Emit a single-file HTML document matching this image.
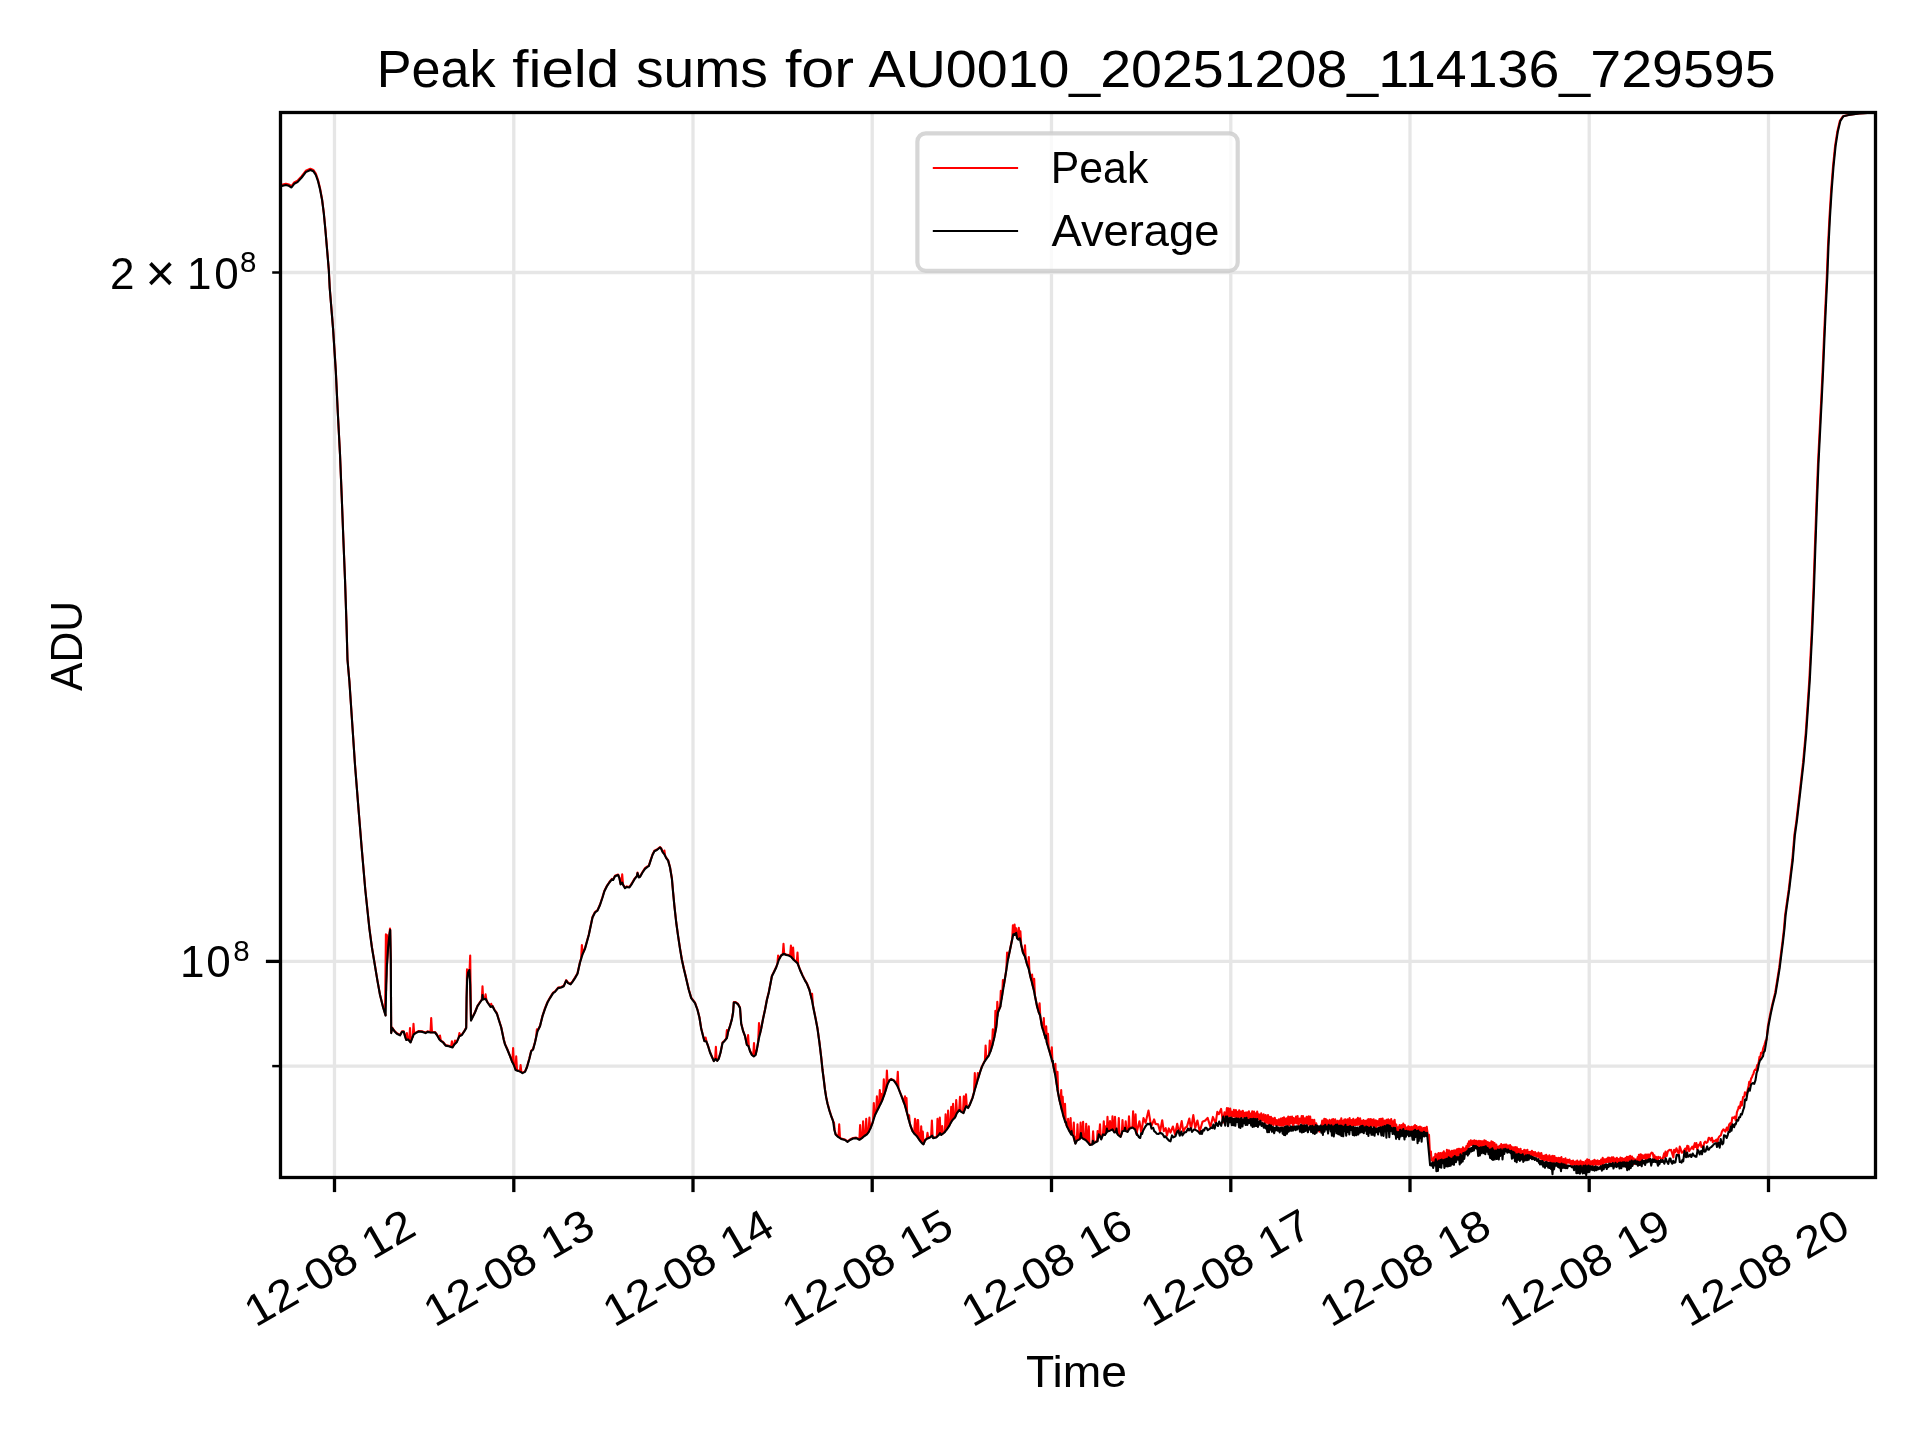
<!DOCTYPE html>
<html lang="en"><head><meta charset="utf-8"><title>Peak field sums for AU0010_20251208_114136_729595</title>
<style>html,body{margin:0;padding:0;background:#fff}body{width:1920px;height:1440px;overflow:hidden;font-family:"Liberation Sans",sans-serif}svg{display:block}text{font-family:"Liberation Sans",sans-serif;fill:#000}</style>
</head><body>
<svg width="1920" height="1440" viewBox="0 0 1920 1440">
<rect x="0" y="0" width="1920" height="1440" fill="#ffffff"/>
<defs><clipPath id="ax"><rect x="280.5" y="112.5" width="1595.0" height="1065.0"/></clipPath></defs>
<g stroke="#e6e6e6" stroke-width="3.3" fill="none">
<line x1="334.5" y1="112.5" x2="334.5" y2="1177.5"/>
<line x1="513.8" y1="112.5" x2="513.8" y2="1177.5"/>
<line x1="693.0" y1="112.5" x2="693.0" y2="1177.5"/>
<line x1="872.2" y1="112.5" x2="872.2" y2="1177.5"/>
<line x1="1051.5" y1="112.5" x2="1051.5" y2="1177.5"/>
<line x1="1230.8" y1="112.5" x2="1230.8" y2="1177.5"/>
<line x1="1410.0" y1="112.5" x2="1410.0" y2="1177.5"/>
<line x1="1589.2" y1="112.5" x2="1589.2" y2="1177.5"/>
<line x1="1768.5" y1="112.5" x2="1768.5" y2="1177.5"/>
<line x1="280.5" y1="272.5" x2="1875.5" y2="272.5"/>
<line x1="280.5" y1="961.4" x2="1875.5" y2="961.4"/>
<line x1="280.5" y1="1066.1" x2="1875.5" y2="1066.1"/>
</g>
<g clip-path="url(#ax)" fill="none" stroke-linejoin="round" stroke-linecap="butt">
<path id="peak" stroke="#ff0000" stroke-width="2.1" d="M279.0 185.3 L280.8 184.9 L285.8 183.7 L288.8 184.5 L291.5 186.2 L294.2 182.4 L297.5 180.8 L301.7 176.2 L305.8 170.8 L310.4 168.7 L313.3 169.9 L315.8 173.7 L317.9 179.5 L320.0 187.9 L322.1 199.5 L323.8 212.8 L325.4 229.5 L327.1 249.5 L328.8 269.5 L329.7 287.3 L333.1 328.9 L335.8 370.6 L337.8 412.3 L340.0 453.9 L341.7 495.6 L343.3 537.3 L345.0 578.9 L346.4 620.6 L347.5 659.5 L349.4 681.2 L352.2 722.8 L355.0 764.5 L358.3 806.2 L361.7 847.8 L365.3 889.5 L369.4 928.2 L371.9 947.0 L374.4 962.0 L377.5 980.8 L380.0 994.5 L383.1 1007.0 L385.6 1015.1 L385.1 1013.7 L385.9 934.4 L386.6 973.5 L386.2 984.5 L386.1 990.8 L386.9 935.0 L387.6 954.7 L386.9 965.8 L388.1 947.0 L389.4 934.5 L389.2 936.0 L390.0 928.5 L390.8 959.7 L390.2 929.5 L390.8 959.5 L391.0 997.0 L391.2 1032.6 L392.2 1027.6 L394.4 1030.8 L396.9 1033.2 L400.0 1034.9 L401.9 1031.4 L403.8 1031.4 L405.0 1035.8 L406.2 1039.5 L406.1 1039.3 L406.9 1033.1 L407.6 1039.2 L408.1 1038.9 L409.2 1040.5 L410.0 1028.1 L410.8 1041.9 L410.6 1042.0 L412.5 1037.0 L412.8 1036.6 L413.5 1023.8 L414.2 1033.7 L413.8 1033.9 L415.6 1032.6 L418.8 1031.0 L422.5 1031.4 L425.6 1032.6 L427.5 1031.4 L430.6 1032.0 L430.5 1032.2 L431.2 1018.1 L432.0 1032.2 L435.0 1032.0 L436.9 1034.5 L439.4 1038.9 L439.2 1038.9 L440.0 1035.6 L440.8 1040.5 L441.2 1040.8 L443.1 1042.0 L445.6 1045.1 L448.8 1045.8 L451.1 1046.7 L451.9 1041.2 L452.6 1047.0 L452.5 1047.0 L454.4 1043.9 L454.2 1044.3 L455.0 1040.6 L455.8 1042.7 L456.9 1041.4 L458.6 1037.6 L459.4 1033.1 L460.1 1035.6 L459.4 1035.8 L461.9 1034.5 L464.4 1030.8 L466.2 1027.6 L466.6 997.0 L466.2 1027.8 L467.0 969.4 L467.8 974.9 L467.2 978.2 L468.1 972.0 L469.4 969.5 L469.5 971.8 L470.2 955.6 L471.0 1020.3 L470.2 984.5 L471.0 1020.1 L472.5 1017.0 L475.0 1012.0 L477.5 1005.8 L480.0 1002.0 L482.2 998.9 L481.8 999.8 L482.5 986.2 L483.2 999.0 L482.5 994.5 L483.1 998.9 L484.9 998.6 L485.6 994.4 L486.4 1000.0 L485.6 998.2 L487.5 1002.0 L490.6 1006.4 L490.5 1006.4 L491.2 1003.8 L492.0 1006.1 L492.5 1005.8 L494.4 1009.5 L496.9 1013.2 L498.8 1019.5 L501.2 1027.0 L503.8 1039.5 L505.0 1043.9 L507.5 1049.5 L510.0 1055.8 L511.9 1060.8 L512.4 1062.0 L513.1 1048.1 L513.9 1065.0 L513.8 1064.5 L515.6 1069.5 L515.5 1069.4 L516.2 1056.2 L517.0 1070.2 L518.1 1070.4 L519.9 1071.3 L520.6 1065.0 L521.4 1072.1 L520.6 1071.4 L522.5 1072.6 L525.0 1071.4 L526.9 1067.0 L529.4 1058.2 L531.2 1050.8 L533.1 1048.9 L535.0 1042.0 L536.1 1037.1 L536.9 1029.4 L537.6 1030.7 L537.5 1030.8 L540.0 1025.8 L542.5 1015.8 L545.0 1008.2 L547.5 1002.0 L550.0 997.6 L553.1 992.6 L555.0 991.4 L558.1 987.6 L561.2 987.0 L563.8 985.8 L566.2 980.1 L568.1 982.6 L570.6 983.9 L572.5 981.4 L575.0 977.6 L577.5 973.2 L580.0 962.0 L581.1 958.5 L581.9 945.0 L582.6 953.8 L582.5 953.9 L585.0 948.2 L588.8 934.5 L592.5 917.0 L595.0 912.0 L597.5 910.1 L600.0 904.5 L602.5 897.0 L604.4 890.8 L606.9 885.8 L609.4 882.0 L611.9 878.9 L613.1 879.5 L615.0 875.8 L618.1 874.5 L619.4 877.6 L620.6 883.9 L621.5 883.1 L622.2 874.4 L623.0 884.3 L622.2 882.0 L623.1 884.5 L625.0 887.6 L626.9 886.4 L629.4 887.0 L631.9 883.2 L634.4 878.9 L636.9 875.8 L637.5 872.6 L638.8 877.0 L640.0 876.4 L642.5 872.0 L645.0 868.2 L647.5 866.4 L648.8 865.8 L650.6 860.1 L652.5 854.5 L654.4 850.8 L656.9 849.5 L660.0 847.0 L661.2 848.2 L662.5 851.4 L663.6 853.1 L664.4 850.6 L665.1 855.6 L664.4 853.9 L666.2 857.6 L668.1 860.1 L670.0 867.0 L671.9 878.2 L673.1 892.0 L674.4 905.8 L676.2 922.0 L678.1 935.8 L680.0 948.2 L681.9 959.5 L683.8 968.2 L685.6 975.8 L688.8 989.5 L691.2 997.6 L695.0 1002.6 L697.5 1009.5 L699.4 1017.0 L701.2 1028.2 L703.1 1035.8 L704.4 1040.8 L704.9 1041.0 L705.6 1037.5 L706.4 1041.3 L706.2 1040.8 L708.1 1045.8 L710.0 1052.0 L711.9 1056.4 L713.8 1060.8 L715.6 1058.2 L715.1 1059.1 L715.9 1046.9 L716.6 1059.8 L717.2 1060.5 L718.8 1058.2 L720.6 1052.0 L722.5 1042.6 L724.4 1040.8 L726.1 1038.8 L726.9 1030.0 L727.6 1034.1 L726.9 1037.6 L728.1 1031.4 L730.0 1025.8 L731.9 1018.9 L733.1 1012.0 L733.8 1002.0 L735.6 1002.0 L738.1 1003.9 L740.0 1007.6 L741.2 1023.2 L743.1 1030.8 L745.0 1035.8 L746.9 1044.5 L747.4 1045.1 L748.1 1035.0 L748.9 1047.2 L748.5 1045.8 L750.0 1050.8 L751.9 1054.5 L753.8 1056.0 L753.2 1055.8 L754.0 1043.1 L754.8 1055.4 L755.6 1054.5 L756.9 1048.9 L758.8 1038.2 L758.2 1041.3 L759.0 1023.1 L759.8 1034.5 L761.2 1028.2 L763.1 1018.2 L765.0 1009.5 L766.9 999.5 L768.8 992.0 L771.2 979.5 L771.9 975.8 L773.8 972.0 L776.2 967.0 L777.4 963.8 L778.1 955.6 L778.9 959.5 L778.8 959.5 L781.2 955.1 L782.8 954.1 L783.5 943.8 L784.2 953.8 L783.5 953.2 L786.2 954.5 L788.8 955.1 L790.1 956.0 L790.9 945.6 L791.6 957.0 L791.2 956.4 L792.4 958.0 L793.1 947.5 L793.9 959.8 L793.8 959.5 L796.8 962.2 L797.5 952.5 L798.2 964.9 L797.5 962.6 L800.0 969.5 L802.5 975.1 L805.0 980.1 L806.9 983.2 L809.4 989.5 L811.9 999.5 L811.4 997.7 L812.1 993.8 L812.9 1005.0 L813.8 1009.5 L815.6 1018.2 L817.5 1028.2 L819.4 1042.0 L821.2 1057.0 L822.5 1069.5 L823.8 1079.5 L825.0 1089.5 L826.2 1097.0 L827.5 1103.2 L829.4 1110.1 L831.2 1115.8 L833.1 1120.8 L833.2 1121.8 L834.0 1122.5 L834.8 1131.0 L834.4 1129.5 L835.6 1133.9 L838.1 1136.4 L838.5 1136.8 L839.2 1124.4 L840.0 1137.8 L841.2 1138.5 L845.0 1139.5 L847.5 1141.4 L850.0 1139.5 L853.1 1138.0 L856.2 1137.6 L859.4 1139.2 L859.4 1139.5 L860.1 1125.0 L860.9 1138.5 L861.9 1137.6 L862.4 1137.4 L863.1 1121.2 L863.9 1136.1 L864.4 1135.5 L865.5 1135.0 L866.2 1118.8 L867.0 1133.9 L866.9 1133.9 L868.8 1131.4 L868.6 1131.7 L869.4 1117.5 L870.1 1128.8 L870.6 1127.6 L872.5 1122.6 L873.0 1121.2 L873.8 1103.1 L874.5 1116.3 L875.0 1114.5 L876.1 1112.5 L876.9 1096.2 L877.6 1109.5 L877.5 1109.5 L879.0 1106.7 L879.8 1090.0 L880.5 1103.7 L880.0 1104.5 L880.4 1104.0 L881.1 1093.9 L881.9 1101.0 L881.9 1100.8 L883.0 1098.0 L883.8 1079.4 L884.5 1093.7 L883.8 1095.8 L885.6 1090.1 L886.1 1088.7 L886.9 1070.6 L887.6 1083.8 L887.5 1083.9 L889.4 1080.1 L891.2 1078.9 L893.8 1080.1 L896.2 1083.2 L897.0 1085.0 L897.8 1071.9 L898.5 1088.2 L898.1 1087.0 L900.0 1092.0 L902.5 1098.2 L904.2 1103.3 L905.0 1096.3 L905.8 1108.1 L905.0 1105.1 L905.5 1107.2 L906.2 1098.8 L907.0 1112.7 L905.8 1108.1 L906.5 1098.1 L907.2 1113.7 L906.9 1112.0 L908.8 1119.5 L908.3 1118.1 L909.1 1115.2 L909.8 1123.3 L910.6 1125.8 L912.5 1130.8 L914.4 1133.2 L914.2 1133.3 L915.0 1118.8 L915.8 1134.8 L914.2 1133.3 L915.0 1118.8 L915.8 1134.8 L916.9 1135.8 L916.8 1135.8 L917.5 1120.0 L918.2 1138.0 L917.4 1136.7 L918.1 1120.0 L918.9 1139.0 L919.4 1139.5 L919.2 1139.5 L920.0 1132.9 L920.8 1141.4 L920.5 1141.1 L921.2 1126.2 L922.0 1142.9 L921.9 1142.6 L922.0 1143.0 L922.8 1131.5 L923.5 1143.9 L923.5 1143.9 L925.0 1140.1 L926.9 1138.2 L926.7 1138.6 L927.5 1132.8 L928.2 1137.9 L930.0 1137.0 L931.1 1136.3 L931.9 1120.6 L932.6 1136.4 L932.2 1135.1 L933.1 1137.6 L936.2 1137.0 L936.8 1136.7 L937.5 1118.8 L938.2 1135.2 L938.8 1134.5 L939.0 1134.3 L939.8 1117.5 L940.5 1133.6 L940.0 1132.6 L941.2 1134.5 L941.4 1134.6 L942.2 1126.1 L942.9 1133.4 L944.4 1132.0 L944.9 1131.6 L945.6 1114.4 L946.4 1129.7 L946.9 1128.9 L947.4 1128.3 L948.1 1110.6 L948.9 1126.1 L949.4 1125.1 L950.6 1122.6 L950.5 1123.1 L951.2 1106.9 L952.0 1120.5 L952.5 1119.5 L952.4 1119.9 L953.1 1103.8 L953.9 1118.3 L955.0 1117.0 L955.5 1116.0 L956.2 1100.0 L957.0 1112.7 L956.9 1112.6 L959.4 1109.5 L959.2 1109.9 L960.0 1096.9 L960.8 1111.1 L961.2 1111.4 L963.5 1112.6 L963.0 1112.5 L963.8 1096.2 L964.5 1109.9 L965.0 1108.2 L965.2 1108.0 L966.0 1094.4 L966.8 1106.5 L966.2 1105.8 L968.1 1107.6 L970.0 1103.9 L972.5 1097.6 L974.4 1090.8 L974.0 1092.3 L974.8 1073.1 L975.5 1087.2 L976.2 1084.5 L977.0 1082.2 L977.8 1073.1 L978.5 1077.2 L978.1 1078.2 L980.0 1072.0 L981.9 1066.4 L984.4 1061.4 L984.9 1060.8 L985.6 1045.6 L986.4 1058.6 L986.9 1057.6 L988.8 1055.1 L989.0 1054.7 L989.8 1040.6 L990.5 1051.2 L990.6 1050.8 L992.5 1044.5 L992.0 1046.4 L992.8 1029.4 L993.5 1040.4 L994.4 1036.4 L994.7 1035.1 L995.4 1010.8 L996.2 1027.6 L994.9 1034.1 L995.6 1011.2 L996.4 1026.1 L996.2 1027.0 L996.6 1024.2 L997.3 1001.7 L998.1 1011.8 L997.5 1015.8 L997.9 1012.0 L1000.4 1006.2 L1000.1 1007.1 L1000.8 990.8 L1001.6 998.8 L1002.1 995.3 L1002.2 995.0 L1002.9 980.0 L1003.7 986.0 L1004.2 982.8 L1006.2 970.3 L1006.3 970.0 L1007.1 952.5 L1007.8 960.2 L1007.9 959.5 L1010.0 949.5 L1011.7 941.2 L1012.2 939.1 L1012.9 925.4 L1013.7 934.1 L1013.3 933.7 L1013.8 934.2 L1014.6 924.6 L1015.3 933.8 L1014.6 934.5 L1015.5 933.5 L1016.2 928.3 L1017.0 937.5 L1016.2 932.4 L1017.1 937.8 L1018.3 939.1 L1018.0 939.0 L1018.8 927.9 L1019.5 938.3 L1019.8 937.8 L1019.7 938.2 L1020.4 931.2 L1021.2 944.3 L1021.2 944.5 L1022.9 952.0 L1024.2 954.9 L1025.0 945.4 L1025.8 959.4 L1025.0 956.2 L1026.7 962.8 L1028.0 966.8 L1028.8 957.1 L1029.5 972.2 L1028.8 968.7 L1030.4 976.2 L1031.3 980.0 L1032.1 974.6 L1032.8 986.0 L1032.1 982.8 L1033.8 989.5 L1033.4 988.4 L1034.2 978.8 L1034.9 995.5 L1035.4 997.8 L1037.1 1006.2 L1038.8 1012.0 L1038.6 1011.8 L1039.4 1003.8 L1040.1 1015.5 L1038.8 1012.4 L1039.6 1003.3 L1040.3 1016.7 L1040.0 1014.5 L1041.9 1025.8 L1043.0 1029.7 L1043.8 1018.1 L1044.5 1034.7 L1043.8 1032.0 L1045.6 1038.2 L1045.5 1038.0 L1046.2 1026.2 L1047.0 1043.0 L1047.5 1044.5 L1047.3 1043.9 L1048.0 1033.9 L1048.8 1048.9 L1049.4 1050.8 L1051.2 1057.0 L1051.0 1056.4 L1051.8 1047.2 L1052.5 1062.2 L1053.1 1064.5 L1055.0 1073.2 L1054.6 1071.7 L1055.4 1063.8 L1056.1 1080.2 L1056.2 1080.8 L1056.8 1084.5 L1057.5 1071.9 L1058.2 1093.7 L1057.5 1089.5 L1059.4 1099.5 L1060.5 1104.2 L1061.2 1090.0 L1062.0 1110.2 L1061.2 1107.0 L1062.0 1110.0 L1062.7 1096.9 L1063.5 1115.8 L1063.1 1114.5 L1064.2 1118.5 L1065.0 1103.8 L1065.8 1123.0 L1065.0 1120.8 L1066.9 1125.8 L1067.4 1127.0 L1068.1 1118.8 L1068.9 1130.0 L1069.4 1130.8 L1069.9 1131.8 L1070.6 1118.1 L1071.4 1134.2 L1071.2 1133.9 L1073.1 1135.1 L1073.0 1135.2 L1073.8 1122.5 L1074.5 1140.2 L1074.4 1139.5 L1075.4 1143.2 L1074.6 1140.7 L1075.4 1136.8 L1076.1 1141.9 L1076.9 1140.1 L1076.8 1140.6 L1077.5 1124.4 L1078.2 1139.6 L1079.4 1138.9 L1079.9 1138.4 L1080.6 1122.5 L1081.4 1136.7 L1081.2 1136.4 L1082.4 1137.7 L1083.1 1121.9 L1083.9 1138.8 L1083.1 1138.2 L1085.6 1139.5 L1085.5 1139.6 L1086.2 1123.8 L1087.0 1141.1 L1087.5 1141.4 L1088.0 1142.2 L1088.8 1126.2 L1089.5 1144.1 L1090.0 1144.5 L1092.5 1143.9 L1092.4 1144.1 L1093.1 1131.2 L1093.9 1143.0 L1095.0 1142.0 L1097.5 1140.8 L1096.9 1141.3 L1097.6 1131.0 L1098.4 1136.2 L1098.8 1133.9 L1099.2 1134.8 L1100.0 1124.4 L1100.8 1137.8 L1100.0 1135.8 L1101.2 1138.9 L1103.1 1133.9 L1103.0 1134.4 L1103.8 1121.2 L1104.5 1134.5 L1105.0 1134.5 L1105.1 1134.5 L1105.9 1126.4 L1106.6 1132.0 L1106.9 1131.4 L1106.8 1131.8 L1107.5 1116.9 L1108.2 1131.0 L1110.0 1130.1 L1109.2 1130.6 L1110.0 1121.1 L1110.8 1130.0 L1111.8 1129.5 L1112.5 1116.2 L1113.2 1130.3 L1112.5 1128.9 L1114.4 1132.0 L1114.2 1132.0 L1115.0 1116.9 L1115.8 1131.7 L1116.2 1131.4 L1118.1 1134.5 L1118.0 1134.5 L1118.8 1118.1 L1119.5 1135.7 L1120.6 1136.4 L1121.8 1133.2 L1122.5 1120.0 L1123.2 1130.8 L1122.5 1130.8 L1125.0 1130.1 L1125.0 1130.3 L1125.7 1121.3 L1126.5 1131.1 L1127.5 1131.4 L1128.2 1130.3 L1129.0 1116.4 L1129.7 1128.3 L1129.4 1128.2 L1132.5 1127.0 L1132.4 1127.2 L1133.1 1111.2 L1133.9 1128.2 L1135.0 1128.9 L1134.9 1129.0 L1135.6 1114.4 L1136.4 1133.2 L1136.9 1134.5 L1137.0 1131.2 L1139.4 1121.2 L1141.3 1132.6 L1143.5 1118.1 L1145.6 1122.8 L1148.5 1110.6 L1151.2 1126.5 L1154.1 1119.4 L1155.5 1123.9 L1158.1 1124.4 L1160.1 1131.6 L1162.2 1120.2 L1163.8 1131.2 L1165.7 1128.2 L1167.0 1135.6 L1168.8 1128.4 L1170.5 1132.6 L1172.9 1126.5 L1175.1 1134.6 L1177.2 1123.8 L1179.2 1133.3 L1181.7 1121.1 L1183.3 1131.4 L1185.6 1127.2 L1186.8 1127.1 L1189.3 1118.5 L1191.0 1129.3 L1193.3 1115.1 L1195.2 1127.9 L1197.4 1120.5 L1199.7 1131.6 L1202.5 1121.7 L1205.3 1120.5 L1207.6 1117.9 L1210.4 1126.9 L1212.9 1116.9 L1215.6 1123.3 L1217.3 1111.8 L1218.9 1114.2 L1221.1 1108.9 L1223.0 1122.5 L1224.5 1112.2 L1226.1 1115.8 L1226.9 1108.1 L1227.7 1115.5 L1228.3 1108.4 L1229.0 1116.3 L1230.2 1108.6 L1231.3 1116.3 L1232.0 1111.7 L1232.8 1116.8 L1233.9 1109.8 L1234.9 1116.8 L1235.9 1110.1 L1236.6 1117.4 L1237.3 1111.9 L1238.4 1117.8 L1239.2 1110.2 L1240.5 1117.2 L1241.1 1111.5 L1242.0 1117.2 L1242.8 1110.7 L1244.0 1117.3 L1245.2 1112.5 L1246.4 1117.3 L1247.0 1112.4 L1247.8 1118.0 L1248.9 1111.3 L1249.7 1119.1 L1250.4 1113.5 L1251.5 1117.9 L1252.2 1111.4 L1253.0 1118.1 L1254.0 1111.6 L1255.0 1120.3 L1255.9 1113.2 L1256.5 1121.2 L1257.2 1111.6 L1258.2 1119.0 L1258.9 1114.2 L1260.1 1121.8 L1261.2 1113.3 L1262.4 1120.6 L1263.6 1114.2 L1264.7 1123.4 L1265.7 1115.1 L1266.8 1122.8 L1268.0 1115.1 L1268.6 1124.7 L1269.4 1116.8 L1270.4 1124.5 L1271.0 1116.8 L1271.7 1124.1 L1272.8 1118.4 L1273.5 1125.3 L1274.8 1117.9 L1276.0 1125.0 L1276.8 1120.0 L1277.9 1125.3 L1278.9 1119.2 L1280.0 1125.6 L1280.8 1118.6 L1281.6 1125.6 L1282.5 1118.0 L1283.4 1125.8 L1284.0 1117.4 L1285.1 1124.8 L1286.3 1118.3 L1287.3 1125.0 L1288.2 1116.5 L1289.2 1125.4 L1290.2 1116.7 L1290.9 1123.5 L1292.1 1116.6 L1293.1 1125.8 L1293.7 1118.1 L1294.8 1123.4 L1296.0 1116.6 L1296.9 1123.4 L1297.6 1116.0 L1298.6 1125.2 L1299.8 1118.6 L1300.8 1122.8 L1301.7 1116.0 L1302.4 1123.6 L1303.0 1116.0 L1303.7 1124.9 L1304.8 1118.4 L1305.7 1123.4 L1306.6 1116.9 L1307.4 1125.0 L1308.6 1116.4 L1309.5 1124.8 L1310.2 1116.6 L1311.0 1127.5 L1312.2 1119.8 L1313.2 1126.6 L1314.2 1119.7 L1315.2 1128.6 L1316.2 1123.3 L1317.4 1128.8 L1318.4 1128.6 L1319.4 1131.6 L1320.2 1131.0 L1321.1 1128.5 L1322.2 1120.6 L1323.4 1125.2 L1324.3 1118.7 L1325.2 1124.7 L1325.8 1119.0 L1326.4 1125.2 L1327.3 1120.3 L1328.3 1126.8 L1329.6 1119.9 L1330.7 1125.5 L1331.9 1119.6 L1332.5 1127.3 L1333.2 1119.1 L1334.2 1125.4 L1335.2 1119.3 L1336.2 1128.2 L1337.4 1120.8 L1338.5 1125.8 L1339.5 1120.6 L1340.3 1127.5 L1341.3 1118.2 L1341.9 1126.6 L1342.5 1120.9 L1343.2 1125.5 L1344.3 1119.5 L1344.9 1125.4 L1345.5 1119.4 L1346.6 1125.8 L1347.7 1119.2 L1348.8 1128.6 L1349.6 1118.0 L1350.7 1127.5 L1351.4 1120.1 L1352.2 1125.9 L1353.3 1118.7 L1354.2 1125.0 L1354.9 1120.4 L1355.5 1125.1 L1356.3 1119.2 L1357.1 1124.9 L1357.9 1117.8 L1359.1 1124.9 L1360.1 1118.3 L1360.9 1125.3 L1361.8 1120.7 L1362.4 1126.3 L1363.5 1120.1 L1364.5 1125.9 L1365.5 1120.7 L1366.5 1126.0 L1367.6 1119.5 L1368.3 1127.0 L1368.9 1119.1 L1370.1 1126.8 L1370.8 1119.0 L1371.4 1125.8 L1372.2 1119.7 L1373.0 1125.9 L1373.7 1119.4 L1374.6 1128.9 L1375.8 1120.4 L1376.4 1126.9 L1377.2 1121.0 L1378.3 1125.7 L1379.4 1119.1 L1380.0 1125.9 L1381.0 1118.8 L1381.6 1127.2 L1382.6 1118.5 L1383.8 1127.3 L1384.8 1120.6 L1385.4 1126.1 L1386.6 1119.9 L1387.2 1126.7 L1388.2 1119.3 L1388.9 1126.5 L1389.5 1120.4 L1390.3 1128.2 L1391.2 1119.0 L1392.0 1131.0 L1393.0 1121.4 L1393.6 1127.3 L1394.6 1119.7 L1395.4 1129.2 L1396.3 1124.5 L1397.0 1132.1 L1398.0 1127.3 L1398.7 1132.8 L1399.6 1125.1 L1400.7 1130.8 L1401.5 1125.1 L1402.3 1134.4 L1403.3 1123.6 L1403.9 1130.4 L1404.8 1125.0 L1405.6 1130.4 L1406.6 1127.6 L1407.1 1131.9 L1408.3 1126.2 L1409.0 1132.6 L1409.8 1127.0 L1410.8 1131.0 L1411.5 1126.9 L1412.5 1131.7 L1413.6 1126.2 L1414.3 1131.6 L1415.0 1125.0 L1415.9 1131.9 L1416.5 1126.0 L1417.7 1134.7 L1418.7 1127.0 L1419.4 1133.0 L1420.0 1126.5 L1420.8 1133.6 L1421.5 1127.4 L1422.5 1135.5 L1423.6 1128.1 L1424.2 1131.8 L1424.7 1127.9 L1425.7 1131.2 L1426.7 1126.7 L1427.8 1135.2 L1429.0 1134.8 L1430.0 1155.0 L1430.9 1151.4 L1431.5 1160.3 L1432.2 1160.3 L1433.0 1161.7 L1433.7 1157.2 L1434.7 1161.4 L1435.4 1153.9 L1436.2 1160.3 L1437.3 1154.2 L1437.9 1160.1 L1438.5 1153.1 L1439.3 1160.1 L1440.3 1153.1 L1441.2 1161.4 L1442.3 1152.9 L1443.0 1159.7 L1443.8 1151.3 L1444.4 1163.0 L1445.3 1153.3 L1446.2 1158.8 L1446.9 1149.9 L1447.9 1161.4 L1448.9 1150.2 L1449.8 1157.5 L1450.3 1151.5 L1451.2 1158.0 L1451.8 1150.8 L1452.6 1158.0 L1453.5 1150.5 L1454.2 1157.0 L1454.9 1150.2 L1456.0 1156.1 L1456.9 1149.2 L1457.5 1158.2 L1458.3 1148.9 L1459.0 1154.8 L1459.8 1148.9 L1461.0 1156.6 L1461.7 1149.0 L1462.3 1153.0 L1462.9 1147.3 L1463.8 1152.4 L1464.5 1148.5 L1465.3 1151.2 L1466.4 1146.0 L1467.1 1149.5 L1467.9 1143.5 L1468.4 1147.2 L1469.0 1141.3 L1469.7 1146.0 L1470.8 1140.2 L1471.8 1145.0 L1472.9 1140.8 L1473.4 1144.9 L1474.4 1140.2 L1475.4 1145.9 L1476.2 1140.8 L1476.8 1147.9 L1477.5 1141.2 L1478.1 1148.0 L1479.0 1140.8 L1480.0 1147.3 L1480.8 1141.0 L1481.6 1148.4 L1482.4 1141.2 L1483.5 1149.5 L1484.3 1140.3 L1485.2 1150.3 L1485.8 1140.8 L1486.8 1148.2 L1487.8 1142.0 L1488.8 1150.5 L1489.4 1142.7 L1490.3 1152.8 L1491.4 1141.2 L1492.2 1149.0 L1492.9 1142.0 L1493.6 1152.5 L1494.5 1143.0 L1495.2 1153.0 L1496.3 1144.6 L1496.8 1152.4 L1497.7 1146.8 L1498.4 1153.3 L1499.5 1145.7 L1500.3 1150.8 L1501.2 1144.1 L1502.2 1149.2 L1503.3 1144.8 L1504.4 1148.7 L1505.0 1144.6 L1505.5 1149.8 L1506.4 1144.5 L1507.3 1150.1 L1508.3 1145.6 L1508.9 1150.7 L1510.1 1145.0 L1510.7 1151.3 L1511.4 1146.5 L1512.6 1152.3 L1513.1 1147.2 L1514.2 1152.3 L1515.1 1147.0 L1515.7 1155.8 L1516.8 1147.2 L1518.0 1154.7 L1518.7 1149.0 L1519.6 1154.5 L1520.6 1148.8 L1521.2 1157.2 L1522.3 1151.1 L1523.2 1155.4 L1524.2 1149.7 L1524.8 1156.2 L1525.7 1150.2 L1526.3 1155.9 L1527.4 1149.8 L1528.0 1156.8 L1528.7 1152.1 L1529.2 1155.9 L1529.9 1151.7 L1531.0 1155.8 L1531.9 1150.8 L1532.9 1156.3 L1533.4 1152.0 L1534.4 1155.4 L1535.1 1152.1 L1535.8 1155.9 L1536.5 1153.4 L1537.3 1156.7 L1538.4 1152.5 L1539.3 1157.8 L1539.9 1153.6 L1540.7 1158.7 L1541.3 1153.0 L1542.4 1159.9 L1543.0 1155.7 L1544.0 1160.5 L1544.7 1155.5 L1545.4 1159.8 L1546.2 1154.7 L1546.8 1161.1 L1547.7 1156.4 L1548.3 1160.6 L1549.4 1155.3 L1550.4 1162.8 L1551.5 1156.4 L1552.0 1163.6 L1552.8 1155.8 L1553.8 1162.6 L1554.5 1156.1 L1555.2 1161.8 L1556.4 1157.9 L1557.2 1163.5 L1558.3 1157.7 L1559.2 1164.1 L1559.8 1158.1 L1560.4 1164.8 L1561.4 1157.1 L1562.5 1164.3 L1563.6 1159.0 L1564.4 1163.8 L1565.5 1158.4 L1566.4 1164.1 L1567.6 1159.7 L1568.7 1162.7 L1569.5 1159.5 L1570.6 1164.0 L1571.4 1161.1 L1572.3 1165.2 L1573.1 1160.5 L1574.2 1164.5 L1575.3 1161.5 L1576.1 1165.0 L1577.2 1160.6 L1578.0 1166.0 L1578.8 1161.8 L1579.5 1166.0 L1580.5 1160.6 L1581.5 1166.1 L1582.1 1161.8 L1582.8 1169.3 L1583.4 1162.1 L1584.5 1166.8 L1585.7 1160.7 L1586.3 1168.3 L1587.2 1159.4 L1588.4 1166.0 L1589.0 1159.8 L1589.9 1167.3 L1590.7 1161.2 L1591.7 1164.5 L1592.5 1160.9 L1593.4 1165.1 L1594.3 1159.9 L1595.1 1164.4 L1595.7 1160.5 L1596.6 1164.8 L1597.7 1160.4 L1598.2 1164.7 L1599.4 1161.1 L1600.3 1164.9 L1601.1 1159.6 L1601.8 1164.5 L1602.7 1157.9 L1603.6 1164.0 L1604.4 1159.3 L1605.3 1162.3 L1606.3 1158.8 L1607.0 1162.0 L1608.1 1157.5 L1608.7 1162.1 L1609.5 1157.8 L1610.6 1162.1 L1611.8 1157.2 L1612.6 1162.3 L1613.3 1157.4 L1614.0 1162.5 L1614.9 1158.6 L1615.9 1162.8 L1616.9 1157.8 L1617.9 1163.8 L1618.6 1159.1 L1619.3 1163.2 L1620.4 1157.6 L1621.3 1162.3 L1622.0 1158.1 L1622.8 1163.1 L1623.6 1158.9 L1624.4 1162.6 L1625.3 1158.1 L1626.1 1163.5 L1626.8 1156.9 L1627.6 1161.2 L1628.4 1156.7 L1629.6 1160.8 L1630.1 1155.8 L1631.2 1161.8 L1632.0 1156.6 L1633.1 1163.1 L1633.7 1158.4 L1634.5 1164.0 L1635.6 1159.4 L1636.7 1161.6 L1637.7 1157.0 L1638.2 1161.8 L1638.9 1154.9 L1639.5 1161.5 L1640.5 1154.2 L1641.1 1161.6 L1641.6 1154.9 L1642.3 1159.1 L1643.2 1155.4 L1644.3 1158.5 L1645.2 1154.5 L1645.9 1159.3 L1646.9 1154.6 L1647.5 1158.3 L1648.4 1154.5 L1649.2 1158.5 L1650.4 1154.1 L1651.8 1152.5 L1652.8 1153.3 L1653.7 1158.2 L1654.4 1155.2 L1655.2 1160.4 L1656.2 1156.9 L1657.6 1162.4 L1658.2 1156.8 L1659.4 1157.8 L1660.1 1157.2 L1660.8 1158.6 L1662.0 1158.8 L1662.7 1158.9 L1664.1 1153.4 L1664.8 1157.2 L1665.5 1151.6 L1666.7 1156.1 L1667.9 1151.2 L1668.6 1150.5 L1669.5 1149.9 L1670.5 1150.1 L1671.1 1149.9 L1672.1 1153.1 L1673.4 1157.5 L1674.1 1149.8 L1675.2 1152.3 L1676.4 1148.2 L1677.6 1151.5 L1678.7 1154.2 L1679.8 1146.5 L1680.6 1148.7 L1681.7 1152.7 L1683.1 1152.0 L1683.9 1150.5 L1685.2 1148.5 L1686.0 1153.5 L1687.2 1145.8 L1688.4 1146.2 L1689.1 1151.2 L1690.4 1149.0 L1691.0 1148.6 L1692.2 1146.7 L1693.3 1149.2 L1693.9 1146.2 L1694.8 1143.2 L1695.5 1147.0 L1696.4 1143.1 L1697.2 1149.5 L1698.6 1144.7 L1699.3 1145.5 L1700.5 1142.1 L1701.4 1147.0 L1702.5 1145.8 L1703.1 1148.7 L1704.2 1142.9 L1705.2 1141.5 L1706.3 1143.0 L1707.5 1142.2 L1708.7 1137.7 L1710.0 1138.7 L1710.7 1140.3 L1711.9 1137.8 L1712.8 1142.2 L1713.7 1140.9 L1715.1 1141.0 L1716.5 1139.5 L1717.3 1142.8 L1718.1 1138.8 L1718.9 1137.1 L1720.2 1135.8 L1720.9 1135.2 L1722.0 1131.3 L1723.4 1129.3 L1724.5 1130.6 L1725.4 1131.7 L1726.8 1127.5 L1727.7 1130.4 L1728.5 1127.3 L1729.2 1124.5 L1730.3 1123.2 L1731.2 1125.4 L1732.3 1117.5 L1733.7 1118.0 L1734.8 1116.5 L1735.6 1120.1 L1736.2 1118.1 L1736.9 1112.3 L1738.1 1109.0 L1738.8 1106.6 L1739.8 1108.2 L1740.9 1101.8 L1741.8 1105.6 L1743.1 1096.9 L1744.3 1096.5 L1744.9 1092.3 L1745.7 1093.2 L1746.8 1095.3 L1747.5 1090.4 L1748.6 1086.0 L1749.2 1081.9 L1749.9 1084.8 L1751.1 1078.4 L1751.9 1077.5 L1752.6 1075.3 L1753.4 1073.9 L1754.2 1071.0 L1755.1 1069.6 L1756.1 1070.0 L1757.2 1065.1 L1757.9 1065.5 L1758.8 1061.4 L1759.5 1056.8 L1760.3 1058.5 L1761.0 1052.7 L1762.3 1053.1 L1763.1 1048.7 L1764.4 1045.0 L1765.1 1042.6 L1765.9 1040.2 L1766.6 1040.0 L1767.9 1026.2 L1770.1 1014.6 L1772.3 1004.4 L1775.2 992.7 L1777.1 981.0 L1779.2 967.9 L1780.8 954.8 L1782.5 941.7 L1784.0 928.5 L1785.1 915.4 L1786.9 902.3 L1788.8 889.2 L1790.5 874.6 L1792.3 860.0 L1794.4 835.0 L1796.4 820.8 L1799.8 791.6 L1803.1 762.4 L1805.7 733.3 L1807.7 704.1 L1809.3 680.0 L1811.3 640.0 L1811.8 630.0 L1813.5 588.3 L1814.9 546.7 L1816.4 505.0 L1818.0 463.3 L1820.1 421.7 L1821.2 400.0 L1822.6 370.8 L1823.9 339.6 L1825.3 308.3 L1826.8 277.1 L1828.0 245.8 L1829.5 216.7 L1831.2 189.6 L1833.0 166.7 L1835.1 145.8 L1837.4 131.2 L1839.9 120.8 L1843.0 116.2 L1848.2 115.0 L1858.7 113.5 L1871.2 112.6 L1875.5 112.5"/>
<path id="avg" stroke="#000000" stroke-width="2.1" d="M279.0 186.7 L280.8 186.2 L285.8 185.0 L288.8 185.8 L291.5 187.5 L294.2 183.8 L297.5 182.1 L301.7 177.5 L305.8 172.1 L310.4 170.0 L313.3 171.2 L315.8 175.0 L317.9 180.8 L320.0 189.2 L322.1 200.0 L323.8 213.3 L325.4 230.0 L327.1 250.0 L328.8 270.0 L329.7 287.8 L333.1 329.4 L335.8 371.1 L337.8 412.8 L340.0 454.4 L341.7 496.1 L343.3 537.8 L345.0 579.4 L346.4 621.1 L347.5 660.0 L349.4 681.7 L352.2 723.3 L355.0 765.0 L358.3 806.7 L361.7 848.3 L365.3 890.0 L369.4 928.8 L371.9 947.5 L374.4 962.5 L377.5 981.2 L380.0 995.0 L383.1 1007.5 L385.6 1015.6 L386.2 985.0 L386.9 966.2 L388.1 947.5 L389.4 935.0 L390.2 930.0 L390.8 960.0 L391.0 997.5 L391.2 1033.1 L392.2 1028.1 L394.4 1031.2 L396.9 1033.8 L400.0 1035.4 L401.9 1031.9 L403.8 1031.9 L405.0 1036.2 L406.2 1040.0 L408.1 1039.4 L410.6 1042.5 L412.5 1037.5 L413.8 1034.4 L415.6 1033.1 L418.8 1031.5 L422.5 1031.9 L425.6 1033.1 L427.5 1031.9 L430.6 1032.5 L435.0 1032.5 L436.9 1035.0 L439.4 1039.4 L441.2 1041.2 L443.1 1042.5 L445.6 1045.6 L448.8 1046.2 L452.5 1047.5 L454.4 1044.4 L456.9 1041.9 L459.4 1036.2 L461.9 1035.0 L464.4 1031.2 L466.2 1028.1 L466.6 997.5 L467.2 978.8 L468.1 972.5 L469.4 970.0 L470.2 985.0 L471.0 1020.6 L472.5 1017.5 L475.0 1012.5 L477.5 1006.2 L480.0 1002.5 L482.2 999.4 L482.5 995.0 L483.1 999.4 L485.6 998.8 L487.5 1002.5 L490.6 1006.9 L492.5 1006.2 L494.4 1010.0 L496.9 1013.8 L498.8 1020.0 L501.2 1027.5 L503.8 1040.0 L505.0 1044.4 L507.5 1050.0 L510.0 1056.2 L511.9 1061.2 L513.8 1065.0 L515.6 1070.0 L518.1 1070.9 L520.6 1071.9 L522.5 1073.1 L525.0 1071.9 L526.9 1067.5 L529.4 1058.8 L531.2 1051.2 L533.1 1049.4 L535.0 1042.5 L537.5 1031.2 L540.0 1026.2 L542.5 1016.2 L545.0 1008.8 L547.5 1002.5 L550.0 998.1 L553.1 993.1 L555.0 991.9 L558.1 988.1 L561.2 987.5 L563.8 986.2 L566.2 980.6 L568.1 983.1 L570.6 984.4 L572.5 981.9 L575.0 978.1 L577.5 973.8 L580.0 962.5 L582.5 954.4 L585.0 948.8 L588.8 935.0 L592.5 917.5 L595.0 912.5 L597.5 910.6 L600.0 905.0 L602.5 897.5 L604.4 891.2 L606.9 886.2 L609.4 882.5 L611.9 879.4 L613.1 880.0 L615.0 876.2 L618.1 875.0 L619.4 878.1 L620.6 884.4 L622.2 882.5 L623.1 885.0 L625.0 888.1 L626.9 886.9 L629.4 887.5 L631.9 883.8 L634.4 879.4 L636.9 876.2 L637.5 873.1 L638.8 877.5 L640.0 876.9 L642.5 872.5 L645.0 868.8 L647.5 866.9 L648.8 866.2 L650.6 860.6 L652.5 855.0 L654.4 851.2 L656.9 850.0 L660.0 847.5 L661.2 848.8 L662.5 851.9 L664.4 854.4 L666.2 858.1 L668.1 860.6 L670.0 867.5 L671.9 878.8 L673.1 892.5 L674.4 906.2 L676.2 922.5 L678.1 936.2 L680.0 948.8 L681.9 960.0 L683.8 968.8 L685.6 976.2 L688.8 990.0 L691.2 998.1 L695.0 1003.1 L697.5 1010.0 L699.4 1017.5 L701.2 1028.8 L703.1 1036.2 L704.4 1041.2 L706.2 1041.2 L708.1 1046.2 L710.0 1052.5 L711.9 1056.9 L713.8 1061.2 L715.6 1058.8 L717.2 1061.0 L718.8 1058.8 L720.6 1052.5 L722.5 1043.1 L724.4 1041.2 L726.9 1038.1 L728.1 1031.9 L730.0 1026.2 L731.9 1019.4 L733.1 1012.5 L733.8 1002.5 L735.6 1002.5 L738.1 1004.4 L740.0 1008.1 L741.2 1023.8 L743.1 1031.2 L745.0 1036.2 L746.9 1045.0 L748.5 1046.2 L750.0 1051.2 L751.9 1055.0 L753.8 1056.5 L755.6 1055.0 L756.9 1049.4 L758.8 1038.8 L761.2 1028.8 L763.1 1018.8 L765.0 1010.0 L766.9 1000.0 L768.8 992.5 L771.2 980.0 L771.9 976.2 L773.8 972.5 L776.2 967.5 L778.8 960.0 L781.2 955.6 L783.5 953.8 L786.2 955.0 L788.8 955.6 L791.2 956.9 L793.8 960.0 L797.5 963.1 L800.0 970.0 L802.5 975.6 L805.0 980.6 L806.9 983.8 L809.4 990.0 L811.9 1000.0 L813.8 1010.0 L815.6 1018.8 L817.5 1028.8 L819.4 1042.5 L821.2 1057.5 L822.5 1070.0 L823.8 1080.0 L825.0 1090.0 L826.2 1097.5 L827.5 1103.8 L829.4 1110.6 L831.2 1116.2 L833.1 1121.2 L834.4 1130.0 L835.6 1134.4 L838.1 1136.9 L841.2 1139.0 L845.0 1140.0 L847.5 1141.9 L850.0 1140.0 L853.1 1138.5 L856.2 1138.1 L859.4 1139.8 L861.9 1138.1 L864.4 1136.0 L866.9 1134.4 L868.8 1131.9 L870.6 1128.1 L872.5 1123.1 L875.0 1115.0 L877.5 1110.0 L880.0 1105.0 L881.9 1101.2 L883.8 1096.2 L885.6 1090.6 L887.5 1084.4 L889.4 1080.6 L891.2 1079.4 L893.8 1080.6 L896.2 1083.8 L898.1 1087.5 L900.0 1092.5 L902.5 1098.8 L905.0 1105.6 L906.9 1112.5 L908.8 1120.0 L910.6 1126.2 L912.5 1131.2 L914.4 1133.8 L916.9 1136.2 L919.4 1140.0 L921.9 1143.1 L923.5 1144.4 L925.0 1140.6 L926.9 1138.8 L930.0 1137.5 L932.2 1135.6 L933.1 1138.1 L936.2 1137.5 L938.8 1135.0 L940.0 1133.1 L941.2 1135.0 L944.4 1132.5 L946.9 1129.4 L949.4 1125.6 L950.6 1123.1 L952.5 1120.0 L955.0 1117.5 L956.9 1113.1 L959.4 1110.0 L961.2 1111.9 L963.5 1113.1 L965.0 1108.8 L966.2 1106.2 L968.1 1108.1 L970.0 1104.4 L972.5 1098.1 L974.4 1091.2 L976.2 1085.0 L978.1 1078.8 L980.0 1072.5 L981.9 1066.9 L984.4 1061.9 L986.9 1058.1 L988.8 1055.6 L990.6 1051.2 L992.5 1045.0 L994.4 1036.9 L996.2 1027.5 L997.5 1016.2 L997.9 1012.5 L1000.4 1006.7 L1002.1 995.8 L1004.2 983.3 L1006.2 970.8 L1007.9 960.0 L1010.0 950.0 L1011.7 941.7 L1013.3 934.2 L1014.6 935.0 L1016.2 932.9 L1017.1 938.3 L1018.3 939.6 L1019.8 938.3 L1021.2 945.0 L1022.9 952.5 L1025.0 956.7 L1026.7 963.3 L1028.8 969.2 L1030.4 976.7 L1032.1 983.3 L1033.8 990.0 L1035.4 998.3 L1037.1 1006.7 L1038.8 1012.5 L1040.0 1015.0 L1041.9 1026.2 L1043.8 1032.5 L1045.6 1038.8 L1045.4 1038.0 L1046.0 1035.6 L1046.6 1042.0 L1047.5 1045.0 L1049.4 1051.2 L1051.2 1057.5 L1052.2 1061.5 L1052.8 1060.8 L1053.4 1066.5 L1053.1 1065.0 L1055.0 1073.8 L1056.2 1081.2 L1057.5 1090.0 L1059.4 1100.0 L1061.2 1107.5 L1063.1 1115.0 L1065.0 1121.2 L1065.4 1122.4 L1066.0 1122.0 L1066.6 1125.6 L1066.9 1126.2 L1069.4 1131.2 L1071.2 1134.4 L1070.9 1133.7 L1071.5 1131.1 L1072.1 1134.9 L1073.1 1135.6 L1074.4 1140.0 L1075.4 1143.8 L1076.9 1140.6 L1079.4 1139.4 L1080.3 1138.1 L1080.9 1133.0 L1081.5 1137.2 L1081.2 1136.9 L1083.1 1138.8 L1085.6 1140.0 L1087.5 1141.9 L1090.0 1145.0 L1092.5 1144.4 L1092.3 1144.4 L1092.9 1140.7 L1093.5 1143.6 L1095.0 1142.5 L1097.5 1141.2 L1098.8 1134.4 L1100.0 1136.2 L1101.2 1139.4 L1103.1 1134.4 L1105.0 1135.0 L1106.9 1131.9 L1106.3 1132.9 L1106.9 1128.6 L1107.5 1131.6 L1110.0 1130.6 L1112.5 1129.4 L1114.4 1132.5 L1116.2 1131.9 L1115.9 1132.0 L1116.5 1128.6 L1117.1 1133.4 L1118.1 1135.0 L1120.6 1136.9 L1122.5 1131.2 L1125.0 1130.6 L1124.4 1130.8 L1125.0 1127.8 L1125.6 1131.0 L1127.5 1131.9 L1129.4 1128.8 L1132.5 1127.5 L1135.0 1129.4 L1136.9 1135.0 L1137.0 1133.9 L1138.8 1137.1 L1140.2 1138.0 L1141.2 1133.2 L1142.1 1134.0 L1143.2 1130.5 L1145.4 1126.5 L1147.6 1123.7 L1148.9 1124.3 L1150.3 1123.3 L1151.5 1128.6 L1153.2 1127.9 L1154.2 1131.1 L1155.5 1132.1 L1156.9 1133.8 L1158.2 1134.0 L1160.2 1132.8 L1162.5 1134.0 L1164.4 1137.1 L1165.4 1136.3 L1167.1 1138.5 L1168.9 1140.5 L1170.5 1141.3 L1172.0 1135.4 L1173.4 1137.4 L1175.4 1136.4 L1177.2 1131.6 L1178.4 1130.4 L1179.8 1135.7 L1181.3 1131.5 L1182.4 1135.5 L1184.5 1132.4 L1186.0 1132.2 L1188.1 1128.6 L1189.1 1130.4 L1190.8 1128.0 L1192.0 1131.9 L1194.2 1129.4 L1195.9 1130.1 L1198.0 1131.3 L1200.0 1133.9 L1201.1 1131.0 L1201.9 1133.9 L1203.3 1129.7 L1204.2 1130.5 L1205.2 1127.8 L1206.4 1127.7 L1207.8 1130.2 L1210.0 1128.7 L1211.1 1127.6 L1212.4 1128.1 L1213.4 1124.6 L1214.6 1128.7 L1216.2 1122.7 L1218.0 1126.0 L1219.2 1121.6 L1221.2 1125.8 L1223.2 1116.6 L1225.2 1125.6 L1225.9 1116.5 L1226.4 1120.3 L1227.2 1116.5 L1228.0 1126.1 L1229.2 1118.1 L1229.9 1122.3 L1230.9 1117.5 L1231.8 1125.1 L1232.4 1118.6 L1233.5 1125.2 L1234.2 1118.8 L1235.3 1125.8 L1236.1 1118.4 L1236.8 1122.0 L1238.0 1118.6 L1239.1 1127.3 L1239.9 1119.1 L1240.4 1127.9 L1241.3 1118.1 L1242.5 1126.5 L1243.2 1119.4 L1244.1 1123.2 L1244.8 1118.0 L1245.6 1125.0 L1246.5 1117.9 L1247.4 1124.9 L1248.2 1119.7 L1249.3 1123.1 L1250.3 1119.0 L1251.2 1125.5 L1251.9 1119.1 L1252.6 1126.9 L1253.5 1118.7 L1254.3 1126.4 L1255.2 1119.0 L1256.2 1126.0 L1257.2 1119.0 L1257.9 1127.0 L1259.0 1121.5 L1259.8 1124.6 L1260.4 1120.8 L1261.6 1126.0 L1262.6 1123.0 L1263.8 1127.7 L1264.6 1123.6 L1265.7 1128.4 L1266.6 1125.4 L1267.3 1132.2 L1268.2 1125.9 L1269.0 1132.2 L1269.6 1124.9 L1270.8 1129.7 L1271.3 1125.6 L1272.0 1131.8 L1273.0 1127.1 L1274.2 1133.2 L1274.8 1127.9 L1275.6 1130.5 L1276.6 1126.3 L1277.7 1130.8 L1278.5 1127.5 L1279.7 1132.4 L1280.6 1127.8 L1281.2 1130.8 L1282.0 1127.6 L1282.7 1133.7 L1283.4 1128.3 L1284.0 1135.0 L1284.6 1127.1 L1285.2 1135.2 L1286.1 1126.2 L1287.0 1133.7 L1287.7 1126.2 L1288.7 1131.6 L1289.2 1127.6 L1290.2 1130.7 L1290.8 1126.2 L1291.8 1130.7 L1292.5 1126.9 L1293.3 1130.4 L1294.5 1126.4 L1295.7 1130.2 L1296.2 1126.4 L1297.1 1129.5 L1297.6 1126.4 L1298.4 1128.5 L1299.1 1126.3 L1300.0 1131.7 L1301.0 1124.9 L1301.8 1132.5 L1302.8 1125.5 L1303.8 1132.0 L1304.9 1125.3 L1305.7 1130.9 L1306.8 1125.3 L1307.9 1132.3 L1308.6 1127.2 L1309.3 1129.6 L1310.2 1126.0 L1311.2 1132.0 L1312.3 1125.7 L1313.1 1133.3 L1314.1 1126.9 L1314.8 1134.0 L1315.8 1125.0 L1316.6 1132.7 L1317.6 1125.8 L1318.2 1130.5 L1319.2 1126.6 L1319.7 1129.9 L1320.7 1125.5 L1321.4 1132.7 L1322.2 1126.9 L1322.9 1135.0 L1323.4 1126.0 L1324.5 1131.6 L1325.2 1124.7 L1326.1 1129.5 L1327.2 1126.5 L1328.1 1133.5 L1328.7 1124.8 L1329.3 1128.8 L1330.1 1126.3 L1330.8 1131.4 L1331.3 1125.2 L1331.9 1135.7 L1333.0 1126.5 L1333.8 1136.5 L1334.5 1126.1 L1335.0 1130.4 L1335.7 1124.7 L1336.4 1133.3 L1337.2 1124.6 L1338.2 1134.1 L1339.3 1125.8 L1339.9 1134.8 L1340.9 1125.5 L1341.4 1136.0 L1342.2 1126.4 L1343.2 1136.3 L1344.2 1126.6 L1344.9 1130.9 L1345.5 1124.9 L1346.2 1135.7 L1347.0 1127.1 L1347.5 1132.0 L1348.2 1126.8 L1349.3 1134.4 L1350.1 1126.1 L1350.8 1129.9 L1351.9 1127.2 L1352.8 1135.0 L1353.5 1126.9 L1354.3 1135.5 L1355.4 1127.5 L1356.3 1135.1 L1357.2 1127.6 L1358.3 1134.5 L1359.5 1127.0 L1360.1 1132.7 L1361.2 1126.0 L1362.2 1132.3 L1362.7 1125.9 L1363.8 1133.2 L1364.4 1127.3 L1365.3 1130.6 L1366.2 1126.6 L1366.8 1133.9 L1367.5 1127.0 L1368.4 1136.0 L1369.0 1127.8 L1370.0 1132.7 L1370.8 1126.9 L1371.5 1134.8 L1372.1 1128.6 L1372.9 1134.6 L1373.9 1127.2 L1374.5 1135.8 L1375.5 1128.6 L1376.5 1132.3 L1377.3 1128.5 L1378.1 1134.4 L1378.7 1127.7 L1379.8 1131.4 L1380.3 1127.2 L1381.4 1135.4 L1382.5 1126.8 L1383.5 1136.0 L1384.5 1126.0 L1385.2 1131.3 L1385.8 1126.2 L1386.4 1137.6 L1387.1 1125.0 L1387.9 1130.7 L1388.6 1125.2 L1389.3 1137.1 L1390.1 1126.0 L1390.6 1131.0 L1391.7 1128.1 L1392.7 1134.0 L1393.8 1127.7 L1394.8 1134.4 L1395.2 1128.1 L1396.1 1138.8 L1396.8 1131.7 L1397.8 1136.9 L1398.6 1132.1 L1399.2 1139.2 L1400.2 1129.9 L1400.9 1136.4 L1401.9 1130.6 L1402.8 1135.9 L1403.3 1129.0 L1404.5 1139.5 L1405.1 1131.0 L1405.9 1136.6 L1406.5 1130.7 L1407.4 1134.7 L1408.3 1131.2 L1409.0 1136.3 L1410.0 1131.6 L1410.6 1135.8 L1411.5 1131.6 L1412.6 1139.6 L1413.6 1130.7 L1414.1 1139.8 L1415.1 1129.9 L1415.8 1136.9 L1416.9 1131.1 L1417.6 1143.1 L1418.3 1130.5 L1418.8 1141.0 L1419.4 1132.0 L1420.0 1138.2 L1420.9 1132.6 L1421.6 1141.7 L1422.3 1132.7 L1423.1 1136.3 L1423.9 1131.9 L1424.4 1136.4 L1425.2 1132.8 L1426.2 1135.9 L1427.0 1132.8 L1428.1 1143.9 L1429.0 1153.4 L1430.1 1165.1 L1430.8 1164.1 L1431.4 1165.6 L1432.3 1162.5 L1433.2 1167.9 L1433.7 1162.6 L1434.8 1165.5 L1435.8 1159.2 L1436.4 1171.1 L1437.2 1161.5 L1437.9 1170.9 L1438.9 1160.6 L1439.5 1167.0 L1440.5 1160.0 L1441.3 1167.8 L1441.8 1159.5 L1442.9 1163.3 L1443.8 1160.1 L1444.4 1167.9 L1445.3 1159.2 L1446.1 1166.3 L1446.9 1158.7 L1447.8 1166.5 L1448.7 1157.4 L1449.3 1166.0 L1449.9 1158.2 L1450.7 1165.6 L1451.5 1158.8 L1452.5 1164.1 L1453.3 1157.4 L1453.9 1164.8 L1454.8 1156.0 L1456.0 1162.1 L1457.0 1157.1 L1458.1 1159.7 L1459.1 1156.8 L1459.7 1164.4 L1460.5 1154.4 L1461.2 1162.6 L1461.7 1155.8 L1462.7 1161.4 L1463.3 1153.1 L1464.2 1158.9 L1465.2 1152.3 L1466.2 1153.8 L1467.1 1151.0 L1467.8 1155.5 L1468.5 1149.1 L1469.1 1153.7 L1470.1 1148.4 L1471.2 1151.6 L1471.9 1147.8 L1472.4 1151.0 L1473.2 1145.8 L1473.9 1150.5 L1474.4 1146.0 L1475.1 1148.3 L1475.9 1146.0 L1476.7 1148.6 L1477.3 1147.0 L1478.2 1156.0 L1479.0 1147.7 L1479.9 1155.5 L1480.8 1147.4 L1481.7 1153.3 L1482.2 1147.2 L1482.8 1151.8 L1483.3 1147.1 L1483.9 1153.1 L1484.7 1146.8 L1485.3 1154.2 L1485.8 1146.2 L1486.8 1151.7 L1487.7 1147.9 L1488.5 1154.1 L1489.1 1149.6 L1490.1 1158.0 L1491.0 1149.2 L1491.8 1159.1 L1492.4 1148.4 L1493.0 1160.0 L1493.7 1150.2 L1494.8 1159.5 L1495.8 1150.6 L1496.9 1159.0 L1497.8 1149.5 L1498.8 1159.5 L1499.5 1149.9 L1500.2 1156.0 L1500.8 1149.2 L1501.2 1155.1 L1502.0 1151.3 L1502.5 1159.4 L1503.4 1149.2 L1504.2 1154.0 L1505.2 1148.7 L1506.3 1151.3 L1506.8 1149.7 L1507.3 1152.7 L1508.2 1149.5 L1508.9 1152.2 L1509.8 1151.0 L1510.6 1153.2 L1511.3 1150.8 L1511.9 1158.6 L1513.0 1151.9 L1513.7 1157.8 L1514.4 1152.5 L1515.0 1161.3 L1516.0 1154.6 L1516.7 1162.3 L1517.1 1154.4 L1518.1 1159.8 L1518.8 1153.8 L1519.9 1160.9 L1520.8 1154.9 L1521.7 1159.4 L1522.7 1154.2 L1523.3 1161.9 L1524.4 1156.4 L1524.9 1160.5 L1526.0 1155.3 L1527.0 1160.3 L1527.8 1155.1 L1528.7 1159.8 L1529.3 1155.4 L1530.2 1158.1 L1531.2 1156.3 L1532.0 1159.3 L1532.6 1157.1 L1533.6 1158.8 L1534.3 1157.7 L1534.8 1159.9 L1536.0 1158.1 L1537.0 1160.9 L1538.2 1159.1 L1538.9 1162.7 L1539.5 1160.7 L1540.0 1164.4 L1540.9 1161.0 L1541.7 1164.4 L1542.4 1161.0 L1543.2 1166.6 L1543.9 1162.2 L1545.0 1167.7 L1546.0 1161.9 L1546.8 1166.0 L1547.3 1162.6 L1548.2 1167.6 L1549.0 1162.9 L1549.7 1168.0 L1550.3 1162.8 L1551.0 1168.9 L1551.5 1163.3 L1552.5 1174.2 L1553.1 1163.3 L1554.0 1169.4 L1555.0 1163.3 L1556.1 1165.7 L1556.8 1163.0 L1558.0 1166.9 L1558.6 1163.7 L1559.4 1167.8 L1560.1 1164.2 L1561.0 1171.2 L1561.6 1163.6 L1562.2 1167.9 L1563.2 1164.3 L1564.1 1168.0 L1564.8 1164.6 L1565.8 1168.2 L1566.6 1165.5 L1567.3 1168.2 L1568.1 1165.5 L1568.7 1166.1 L1569.3 1165.7 L1570.1 1166.2 L1571.0 1166.1 L1572.0 1167.3 L1573.1 1166.3 L1574.1 1170.2 L1574.6 1166.1 L1575.2 1169.2 L1575.9 1166.3 L1576.4 1173.1 L1577.0 1166.1 L1578.0 1173.2 L1579.0 1166.2 L1579.9 1173.6 L1580.7 1165.9 L1581.3 1171.8 L1582.1 1167.9 L1582.7 1173.4 L1583.5 1165.7 L1584.5 1173.2 L1585.4 1165.6 L1586.2 1175.1 L1587.1 1166.2 L1588.0 1172.2 L1588.6 1165.6 L1589.4 1171.9 L1590.4 1166.3 L1591.4 1169.8 L1592.2 1166.2 L1593.0 1170.1 L1594.0 1167.0 L1594.7 1170.6 L1595.5 1166.2 L1596.5 1170.2 L1597.2 1167.0 L1598.2 1169.3 L1599.2 1167.3 L1599.9 1168.9 L1601.0 1166.2 L1601.9 1170.6 L1602.8 1165.2 L1603.7 1169.2 L1604.6 1165.1 L1605.1 1167.3 L1606.1 1164.2 L1606.8 1169.0 L1607.7 1164.7 L1608.4 1167.1 L1609.3 1163.5 L1610.1 1166.2 L1611.1 1163.9 L1611.9 1166.2 L1612.8 1163.1 L1613.5 1168.5 L1614.4 1164.4 L1614.9 1166.5 L1615.5 1162.8 L1616.5 1167.1 L1617.5 1164.1 L1618.1 1166.2 L1619.0 1162.7 L1619.5 1168.5 L1620.3 1162.5 L1621.4 1168.1 L1621.9 1162.8 L1622.4 1166.2 L1623.0 1162.3 L1623.5 1166.5 L1624.3 1162.4 L1625.3 1166.8 L1626.2 1162.5 L1627.2 1170.1 L1628.0 1162.5 L1629.1 1169.4 L1629.8 1161.5 L1630.8 1168.0 L1631.6 1160.5 L1632.5 1165.9 L1633.5 1161.3 L1634.1 1163.4 L1635.1 1160.6 L1636.1 1164.3 L1637.0 1161.3 L1638.0 1165.8 L1638.7 1161.9 L1639.7 1165.0 L1640.8 1161.8 L1641.7 1166.3 L1642.3 1160.3 L1643.1 1163.4 L1644.0 1160.8 L1645.1 1165.0 L1646.0 1160.2 L1646.9 1162.5 L1647.7 1160.0 L1648.4 1161.7 L1649.0 1159.2 L1649.5 1161.4 L1650.3 1159.0 L1651.2 1165.6 L1652.6 1159.3 L1653.3 1162.0 L1654.6 1159.6 L1655.3 1162.1 L1656.7 1160.7 L1658.0 1165.8 L1658.8 1160.7 L1659.4 1164.2 L1660.7 1160.0 L1661.9 1162.0 L1662.6 1160.0 L1663.4 1161.5 L1664.3 1163.7 L1665.0 1161.4 L1665.6 1158.2 L1667.0 1161.8 L1668.3 1163.9 L1669.6 1158.6 L1670.5 1158.5 L1671.2 1162.0 L1672.3 1163.7 L1673.2 1160.8 L1674.0 1162.6 L1675.4 1162.4 L1676.7 1154.8 L1677.5 1155.4 L1678.9 1155.0 L1679.8 1162.0 L1680.6 1161.6 L1681.5 1162.6 L1682.5 1159.8 L1683.2 1161.4 L1684.5 1151.1 L1685.1 1154.8 L1686.0 1157.2 L1687.1 1152.5 L1687.9 1156.7 L1688.8 1156.5 L1690.1 1154.5 L1691.3 1157.0 L1692.7 1153.5 L1693.5 1155.5 L1694.4 1155.6 L1695.5 1156.6 L1696.4 1156.7 L1697.6 1150.1 L1698.4 1150.5 L1699.7 1154.5 L1701.0 1151.0 L1702.0 1154.3 L1703.4 1146.5 L1704.1 1151.1 L1704.7 1151.6 L1705.5 1151.5 L1706.5 1148.3 L1707.2 1146.4 L1707.8 1149.4 L1708.8 1149.7 L1709.8 1148.0 L1711.1 1147.1 L1712.3 1146.2 L1713.6 1144.6 L1714.9 1143.4 L1716.2 1143.3 L1717.0 1146.9 L1718.4 1142.7 L1719.7 1147.7 L1720.7 1139.1 L1721.5 1142.2 L1722.4 1144.4 L1723.3 1143.2 L1724.0 1135.2 L1725.4 1135.7 L1726.7 1138.0 L1727.8 1134.8 L1728.6 1131.9 L1729.7 1132.0 L1730.7 1126.6 L1731.5 1130.8 L1732.6 1124.3 L1733.4 1125.6 L1734.1 1127.2 L1735.0 1124.0 L1735.7 1124.3 L1737.0 1120.1 L1738.1 1120.6 L1739.1 1117.3 L1740.1 1117.2 L1740.9 1114.1 L1741.9 1114.5 L1743.2 1110.0 L1744.2 1107.2 L1745.0 1099.5 L1745.7 1099.3 L1746.3 1100.2 L1747.5 1092.9 L1748.9 1088.5 L1749.8 1090.7 L1750.9 1085.1 L1751.9 1083.6 L1753.1 1083.0 L1754.2 1083.9 L1755.5 1080.1 L1756.6 1073.0 L1757.7 1070.1 L1759.0 1063.4 L1759.9 1060.7 L1760.8 1059.5 L1761.7 1058.3 L1763.0 1056.3 L1763.7 1052.4 L1764.8 1050.8 L1766.1 1042.8 L1768.4 1026.2 L1770.6 1014.6 L1772.8 1004.4 L1775.7 992.7 L1777.6 981.0 L1779.7 967.9 L1781.3 954.8 L1783.0 941.7 L1784.5 928.5 L1785.6 915.4 L1787.4 902.3 L1789.3 889.2 L1791.0 874.6 L1792.8 860.0 L1794.9 835.0 L1796.9 820.8 L1800.3 791.6 L1803.6 762.4 L1806.2 733.3 L1808.2 704.1 L1809.8 680.0 L1811.8 640.0 L1812.3 630.0 L1814.0 588.3 L1815.4 546.7 L1816.9 505.0 L1818.5 463.3 L1820.6 421.7 L1821.7 400.0 L1823.1 370.8 L1824.4 339.6 L1825.8 308.3 L1827.3 277.1 L1828.5 245.8 L1830.0 216.7 L1831.7 189.6 L1833.5 166.7 L1835.6 145.8 L1837.9 131.2 L1840.4 120.8 L1843.5 116.2 L1848.8 115.0 L1859.2 113.5 L1871.7 112.6 L1876.0 112.5"/>
</g>
<g stroke="#000" fill="none">
<line x1="334.5" y1="1177.5" x2="334.5" y2="1192.1" stroke-width="3.3"/>
<line x1="513.8" y1="1177.5" x2="513.8" y2="1192.1" stroke-width="3.3"/>
<line x1="693.0" y1="1177.5" x2="693.0" y2="1192.1" stroke-width="3.3"/>
<line x1="872.2" y1="1177.5" x2="872.2" y2="1192.1" stroke-width="3.3"/>
<line x1="1051.5" y1="1177.5" x2="1051.5" y2="1192.1" stroke-width="3.3"/>
<line x1="1230.8" y1="1177.5" x2="1230.8" y2="1192.1" stroke-width="3.3"/>
<line x1="1410.0" y1="1177.5" x2="1410.0" y2="1192.1" stroke-width="3.3"/>
<line x1="1589.2" y1="1177.5" x2="1589.2" y2="1192.1" stroke-width="3.3"/>
<line x1="1768.5" y1="1177.5" x2="1768.5" y2="1192.1" stroke-width="3.3"/>
<line x1="265.9" y1="961.4" x2="280.5" y2="961.4" stroke-width="3.3"/>
<line x1="272.2" y1="272.5" x2="280.5" y2="272.5" stroke-width="2.5"/>
<line x1="272.2" y1="1066.1" x2="280.5" y2="1066.1" stroke-width="2.5"/>
</g>
<rect x="280.5" y="112.5" width="1595.0" height="1065.0" fill="none" stroke="#000" stroke-width="3.3" stroke-linejoin="miter"/>
<rect x="917.4" y="133.3" width="320.3" height="137.5" rx="8.3" ry="8.3" fill="#ffffff" fill-opacity="0.8" stroke="#cccccc" stroke-opacity="0.8" stroke-width="4.2"/>
<line x1="932.8" y1="168" x2="1018.1" y2="168" stroke="#ff0000" stroke-width="2.1"/>
<line x1="932.8" y1="231" x2="1018.1" y2="231" stroke="#000000" stroke-width="2.1"/>
<g id="labels" opacity="0.999">
<text id="lg1" x="1050.8" y="183.4" font-size="44" textLength="97.5" lengthAdjust="spacingAndGlyphs">Peak</text>
<text id="lg2" x="1051.5" y="245.6" font-size="44" textLength="168" lengthAdjust="spacingAndGlyphs">Average</text>
<text id="title" y="86.7" font-size="51" xml:space="preserve"><tspan x="376.7" textLength="118.9" lengthAdjust="spacingAndGlyphs">Peak</tspan> <tspan x="512.2" textLength="107.1" lengthAdjust="spacingAndGlyphs">field</tspan> <tspan x="636.0" textLength="132.0" lengthAdjust="spacingAndGlyphs">sums</tspan> <tspan x="784.9" textLength="69.1" lengthAdjust="spacingAndGlyphs">for</tspan> <tspan x="868.6" textLength="907.0" lengthAdjust="spacingAndGlyphs">AU0010_20251208_114136_729595</tspan></text>
<text id="xlabel" x="1026" y="1386.9" font-size="44" textLength="101" lengthAdjust="spacingAndGlyphs">Time</text>
<text id="ylabel" transform="translate(82,691) rotate(-90)" x="0" y="0" font-size="44" textLength="90" lengthAdjust="spacingAndGlyphs">ADU</text>
<text id="yt2" y="289.1" font-size="44"><tspan x="110">2</tspan><tspan x="145.6" dy="1.5" font-size="51">×</tspan><tspan x="186.9" dy="-1.5">1</tspan><tspan x="214.2">0</tspan><tspan x="240.1" dy="-16.7" font-size="29.5">8</tspan></text>
<text id="yt1" y="977.1" font-size="44"><tspan x="179.9">1</tspan><tspan x="206.3">0</tspan><tspan x="233.3" dy="-16.5" font-size="29.5">8</tspan></text>
<text class="xt" transform="translate(329.4,1267.5) rotate(-30)" x="0" y="15.2" text-anchor="middle" font-size="44" textLength="188" lengthAdjust="spacingAndGlyphs">12-08 12</text>
<text class="xt" transform="translate(508.6,1267.5) rotate(-30)" x="0" y="15.2" text-anchor="middle" font-size="44" textLength="188" lengthAdjust="spacingAndGlyphs">12-08 13</text>
<text class="xt" transform="translate(687.9,1267.5) rotate(-30)" x="0" y="15.2" text-anchor="middle" font-size="44" textLength="188" lengthAdjust="spacingAndGlyphs">12-08 14</text>
<text class="xt" transform="translate(867.1,1267.5) rotate(-30)" x="0" y="15.2" text-anchor="middle" font-size="44" textLength="188" lengthAdjust="spacingAndGlyphs">12-08 15</text>
<text class="xt" transform="translate(1046.4,1267.5) rotate(-30)" x="0" y="15.2" text-anchor="middle" font-size="44" textLength="188" lengthAdjust="spacingAndGlyphs">12-08 16</text>
<text class="xt" transform="translate(1225.7,1267.5) rotate(-30)" x="0" y="15.2" text-anchor="middle" font-size="44" textLength="188" lengthAdjust="spacingAndGlyphs">12-08 17</text>
<text class="xt" transform="translate(1404.9,1267.5) rotate(-30)" x="0" y="15.2" text-anchor="middle" font-size="44" textLength="188" lengthAdjust="spacingAndGlyphs">12-08 18</text>
<text class="xt" transform="translate(1584.2,1267.5) rotate(-30)" x="0" y="15.2" text-anchor="middle" font-size="44" textLength="188" lengthAdjust="spacingAndGlyphs">12-08 19</text>
<text class="xt" transform="translate(1763.4,1267.5) rotate(-30)" x="0" y="15.2" text-anchor="middle" font-size="44" textLength="188" lengthAdjust="spacingAndGlyphs">12-08 20</text>
</g>
</svg>
</body></html>
